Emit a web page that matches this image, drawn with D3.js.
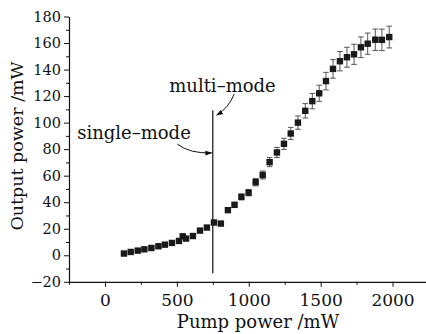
<!DOCTYPE html>
<html><head><meta charset="utf-8">
<script src="https://cdn.jsdelivr.net/npm/d3@7/dist/d3.min.js"></script>
<style>
html,body{margin:0;padding:0;background:#fff;}
svg{display:block;}
text{font-family:"DejaVu Serif",serif;fill:#111;}
</style></head>
<body>
<svg id="c" width="426" height="334"></svg>
<script>
// Data
const pump = [132,179,228,274,323,372,417,466,515,541,564,612,661,709,758,806,855,901,949,999,1048,1097,1145,1196,1245,1292,1342,1393,1442,1490,1537,1586,1634,1683,1732,1780,1827,1880,1926,1977];
const output = [1.3,2.5,3.5,4.5,5.5,6.8,8.0,9.3,10.8,14.3,12.6,14.5,18.6,20.9,24.7,23.9,34.0,38.0,44.0,47.2,55.1,60.5,70.2,77.5,84.0,91.8,100.0,108.9,116.2,122.1,131.3,140.5,146.3,149.3,151.5,156.8,159.5,162.5,162.4,164.5];
const errs = [0.1,0.1,0.2,0.2,0.3,0.3,0.4,0.5,0.5,0.7,0.6,0.7,0.9,1.0,1.2,1.2,1.7,1.9,2.2,2.4,2.8,3.0,3.4,3.8,4.2,4.6,5.0,5.4,5.8,6.1,6.6,7.0,7.3,7.5,7.6,7.8,8.0,8.1,8.1,8.2];
const xMajor = [0,500,1000,1500,2000];
const xMinor = [-250,250,750,1250,1750,2250];
const yMajor = [-20,0,20,40,60,80,100,120,140,160,180];
const yMinor = [-10,10,30,50,70,90,110,130,150,170];
const xTitle = "Pump power /mW";
const yTitle = "Output power /mW";
// mode boundary and annotations (data units)
const boundary = {x:750, y0:-13.6, y1:109.4};
const labels = [
  {text:"single–mode", x:-193, y:87.5, ax:[503,83.8], ac:[591,76.5], ae:[742,77.2]},
  {text:"multi–mode",  x:447,  y:123.2, ax:[899,121.5], ac:[860,111], ae:[777,105.7]}
];

const svg = d3.select("#c");
const x = d3.scaleLinear().domain([-250,2250]).range([69,428.5]);
const y = d3.scaleLinear().domain([-20,180]).range([281.8,16.5]);

const defs = svg.append("defs");
defs.append("marker").attr("id","ah").attr("viewBox","0 0 10 10")
  .attr("refX",9).attr("refY",5).attr("markerWidth",7).attr("markerHeight",7)
  .attr("markerUnits","userSpaceOnUse").attr("orient","auto")
  .append("path").attr("d","M0,1.5 L10,5 L0,8.5 Z").attr("fill","#111");

// axes
const gx = svg.append("g").attr("transform",`translate(0,${y(-20)})`)
  .call(d3.axisBottom(x).tickValues(xMajor).tickSize(5).tickSizeOuter(0).tickPadding(7).tickFormat(d3.format("d")));
gx.selectAll(".tick text").attr("font-size",17);
svg.append("g").attr("transform",`translate(0,${y(-20)})`)
  .call(d3.axisBottom(x).tickValues(xMinor).tickSize(3).tickSizeOuter(0).tickFormat(""))
  .select(".domain").remove();
const gy = svg.append("g").attr("transform",`translate(${x(-250)},0)`)
  .call(d3.axisLeft(y).tickValues(yMajor).tickSize(5).tickSizeOuter(0).tickPadding(3).tickFormat(d=>d<0?"−"+Math.abs(d):d));
gy.selectAll(".tick text").attr("font-size",14.5);
svg.append("g").attr("transform",`translate(${x(-250)},0)`)
  .call(d3.axisLeft(y).tickValues(yMinor).tickSize(3).tickSizeOuter(0).tickFormat(""))
  .select(".domain").remove();
svg.selectAll(".domain").attr("stroke","#111").attr("stroke-width",1.2);
svg.selectAll(".tick line").attr("stroke","#111").attr("stroke-width",1);
svg.selectAll(".tick text").attr("font-family","DejaVu Serif").attr("fill","#111");

// axis titles
svg.append("text").attr("x",258).attr("y",328).attr("text-anchor","middle")
  .attr("font-size",18).text(xTitle);
svg.append("text").attr("transform",`translate(23,${146}) rotate(-90)`).attr("text-anchor","middle")
  .attr("font-size",17.5).text(yTitle);

// boundary line
svg.append("line").attr("x1",x(boundary.x)).attr("x2",x(boundary.x))
  .attr("y1",y(boundary.y0)).attr("y2",y(boundary.y1)).attr("stroke","#111").attr("stroke-width",1.2);

// annotations
labels.forEach(l=>{
  svg.append("text").attr("x",x(l.x)).attr("y",y(l.y)).attr("font-size",18).text(l.text);
  const p = d3.path();
  p.moveTo(x(l.ax[0]),y(l.ax[1]));
  p.quadraticCurveTo(x(l.ac[0]),y(l.ac[1]),x(l.ae[0]),y(l.ae[1]));
  svg.append("path").attr("d",p.toString()).attr("fill","none").attr("stroke","#111")
    .attr("stroke-width",1).attr("marker-end","url(#ah)");
});

// error bars
const data = pump.map((p,i)=>({x:p,y:output[i],e:errs[i]}));
const eb = svg.append("g").attr("stroke","#555").attr("stroke-width",1);
data.forEach(d=>{
  eb.append("line").attr("x1",x(d.x)).attr("x2",x(d.x)).attr("y1",y(d.y-d.e)).attr("y2",y(d.y+d.e));
  [d.y-d.e,d.y+d.e].forEach(v=>eb.append("line").attr("x1",x(d.x)-2.8).attr("x2",x(d.x)+2.8).attr("y1",y(v)).attr("y2",y(v)));
});
// markers
const s = 6.4;
svg.append("g").selectAll("rect").data(data).join("rect")
  .attr("x",d=>x(d.x)-s/2).attr("y",d=>y(d.y)-s/2).attr("width",s).attr("height",s)
  .attr("fill","#1a1a1a");
</script>
</body></html>
